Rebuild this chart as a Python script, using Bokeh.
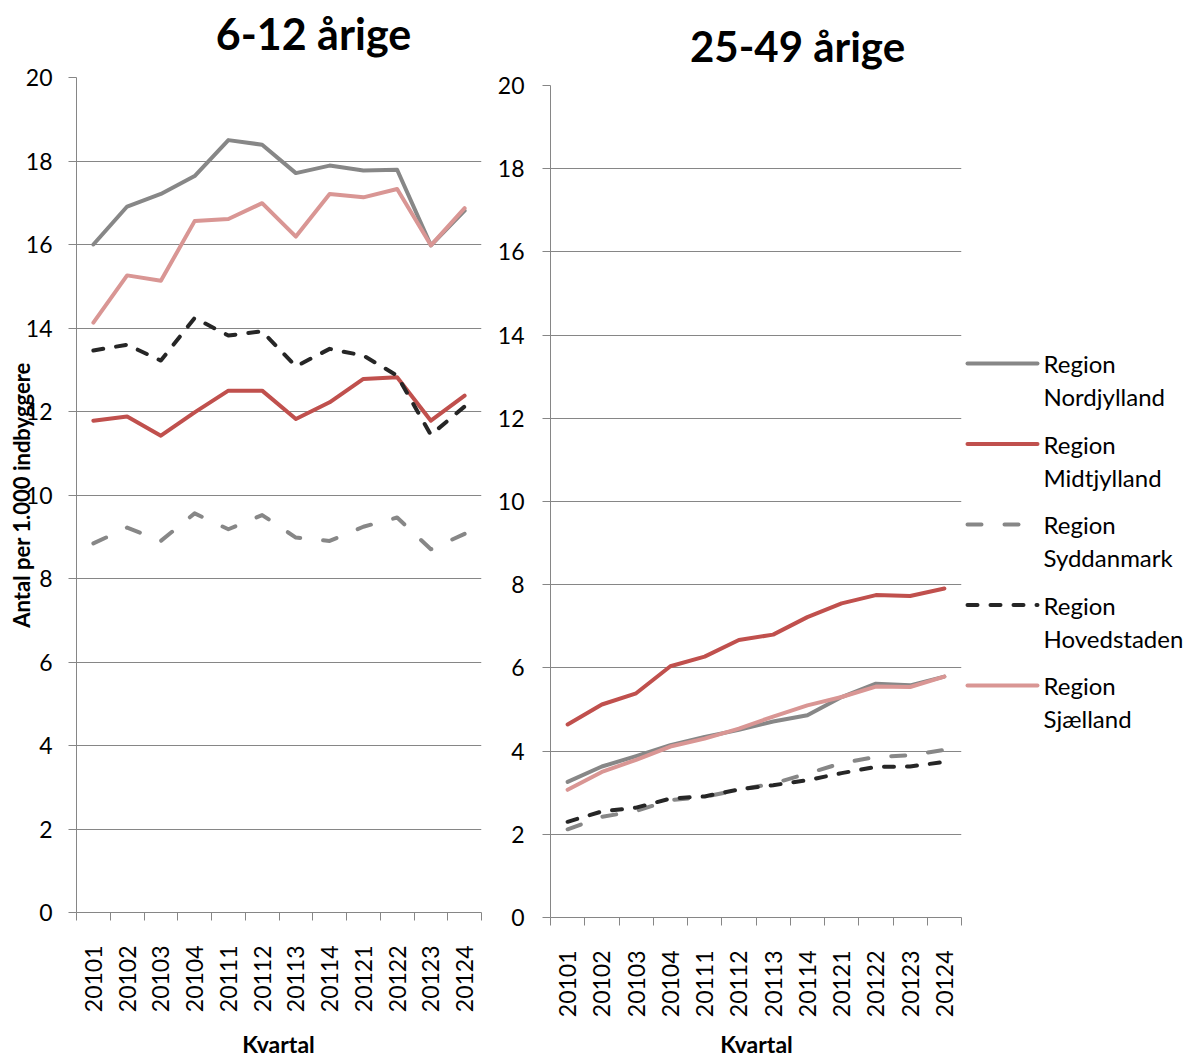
import math
from bokeh.plotting import figure
from bokeh.layouts import row, column
from bokeh.models import Range1d, FixedTicker
from bokeh.embed import file_html
from bokeh.resources import INLINE
from bokeh.core.properties import value

# ---------------- data ----------------
quarters = ["20101", "20102", "20103", "20104", "20111", "20112",
            "20113", "20114", "20121", "20122", "20123", "20124"]
regions = ["Region Nordjylland", "Region Midtjylland", "Region Syddanmark",
           "Region Hovedstaden", "Region Sjælland"]

title_left = "6-12 årige"
title_right = "25-49 årige"
y_label = "Antal per 1.000 indbyggere"
x_label = "Kvartal"
y_ticks = [0, 2, 4, 6, 8, 10, 12, 14, 16, 18, 20]

# 6-12 årige
a612_nordjylland = [16.00, 16.91, 17.21, 17.64, 18.50, 18.39, 17.71, 17.89, 17.77, 17.79, 15.98, 16.81]
a612_midtjylland = [11.78, 11.88, 11.42, 11.98, 12.50, 12.50, 11.82, 12.22, 12.78, 12.82, 11.78, 12.38]
a612_syddanmark = [8.84, 9.22, 8.90, 9.56, 9.18, 9.52, 8.98, 8.90, 9.24, 9.46, 8.70, 9.07]
a612_hovedstaden = [13.46, 13.60, 13.22, 14.24, 13.82, 13.92, 13.08, 13.50, 13.34, 12.86, 11.44, 12.12]
a612_sjaelland = [14.13, 15.26, 15.13, 16.56, 16.61, 16.99, 16.19, 17.21, 17.13, 17.33, 15.98, 16.87]

# 25-49 årige
a2549_nordjylland = [3.26, 3.63, 3.88, 4.14, 4.34, 4.51, 4.71, 4.86, 5.30, 5.62, 5.58, 5.79]
a2549_midtjylland = [4.64, 5.12, 5.39, 6.04, 6.27, 6.67, 6.80, 7.22, 7.55, 7.75, 7.73, 7.91]
a2549_syddanmark = [2.12, 2.42, 2.56, 2.82, 2.90, 3.07, 3.22, 3.46, 3.71, 3.86, 3.90, 4.03]
a2549_hovedstaden = [2.30, 2.55, 2.64, 2.86, 2.91, 3.08, 3.18, 3.30, 3.47, 3.62, 3.63, 3.74]
a2549_sjaelland = [3.07, 3.50, 3.79, 4.11, 4.30, 4.54, 4.83, 5.10, 5.30, 5.55, 5.54, 5.79]

series_612 = [a612_nordjylland, a612_midtjylland, a612_syddanmark, a612_hovedstaden, a612_sjaelland]
series_2549 = [a2549_nordjylland, a2549_midtjylland, a2549_syddanmark, a2549_hovedstaden, a2549_sjaelland]

# ---------------- styles ----------------
FONT = "Lato"
GRID = "#868686"
styles = [
    dict(line_color="#878787", line_dash="solid"),
    dict(line_color="#C0504D", line_dash="solid"),
    dict(line_color="#878787", line_dash="14 23"),
    dict(line_color="#262626", line_dash="10 13"),
    dict(line_color="#D99694", line_dash="solid"),
]
LW = 4


def make_chart(series, width, height, mb_left, mb_right, mb_top, mb_bottom,
               ylabel=None, ystandoff=16):
    n = len(quarters)
    p = figure(width=width, height=height, x_range=Range1d(-0.5, n - 0.5), y_range=Range1d(0, 20),
               output_backend="svg", toolbar_location=None,
               min_border_left=mb_left, min_border_right=mb_right,
               min_border_top=mb_top, min_border_bottom=mb_bottom)
    p.frame_align = False
    p.outline_line_color = None
    p.background_fill_color = "white"
    p.border_fill_color = "white"

    p.xgrid.grid_line_color = None
    p.ygrid.grid_line_color = GRID
    p.ygrid.grid_line_width = 1
    p.ygrid.ticker = FixedTicker(ticks=y_ticks)

    ya = p.yaxis[0]
    ya.ticker = FixedTicker(ticks=y_ticks)
    ya.axis_line_color = GRID
    ya.major_tick_line_color = GRID
    ya.major_tick_out = 8
    ya.major_tick_in = 0
    ya.minor_tick_line_color = None
    ya.major_label_text_font = FONT
    ya.major_label_text_font_size = "23px"
    ya.major_label_text_color = "black"
    ya.major_label_standoff = ystandoff
    if ylabel:
        ya.axis_label = ylabel
        ya.axis_label_text_font = FONT
        ya.axis_label_text_font_size = "22px"
        ya.axis_label_text_font_style = "bold"
        ya.axis_label_text_color = "black"
        ya.axis_label_standoff = -12

    xs = list(range(n))
    xa = p.xaxis[0]
    xa.ticker = FixedTicker(ticks=xs, minor_ticks=[i - 0.5 for i in range(n + 1)])
    xa.major_label_overrides = {i: q for i, q in enumerate(quarters)}
    xa.axis_line_color = GRID
    xa.major_tick_line_color = None
    xa.major_tick_out = 0
    xa.major_tick_in = 0
    xa.minor_tick_line_color = GRID
    xa.minor_tick_out = 8
    xa.minor_tick_in = 0
    xa.major_label_orientation = math.pi / 2
    xa.major_label_text_font = FONT
    xa.major_label_text_font_size = "23px"
    xa.major_label_text_color = "black"
    xa.major_label_standoff = 25

    for ys, st in zip(series, styles):
        p.line(xs, ys, line_width=LW, line_cap="round", line_join="round", **st)
    return p


def strip(width, height):
    """A blank pixel-space panel used to hold titles / legend."""
    f = figure(width=width, height=height, x_range=Range1d(0, width), y_range=Range1d(height, 0),
               output_backend="svg", toolbar_location=None, x_axis_type=None, y_axis_type=None,
               min_border=0)
    f.frame_align = False
    f.outline_line_color = None
    f.grid.visible = False
    return f


def put_text(f, x, y, txt, size, bold=False):
    f.text([x], [y], text=[txt], text_font=value(FONT), text_font_size=size,
           text_font_style="bold" if bold else "normal",
           text_baseline="middle", text_align="center", text_color="black")


TOTAL_H = 1059

# ---------------- left chart column ----------------
W1 = 490
t1 = strip(W1, 62)
put_text(t1, 313, 33, title_left, "43px", bold=True)
p1 = make_chart(series_612, W1, 963, 76, 9, 15, 113, ylabel=y_label, ystandoff=16)
k1 = strip(W1, TOTAL_H - 62 - 963)
put_text(k1, 278, 18, x_label, "23px", bold=True)

# ---------------- right chart column ----------------
W2 = 473
t2 = strip(W2, 72)
put_text(t2, 307, 45, title_right, "42px", bold=True)
p2 = make_chart(series_2549, W2, 952, 60, 2, 13, 107, ystandoff=18)
k2 = strip(W2, TOTAL_H - 72 - 952)
put_text(k2, 266, 19, x_label, "23px", bold=True)

# ---------------- legend panel ----------------
LEG_W = 226
leg = strip(LEG_W, TOTAL_H)
leg_top = 363
leg_step = 80.5
for i, (name, st) in enumerate(zip(regions, styles)):
    yy = leg_top + i * leg_step
    leg.line([4, 74], [yy, yy], line_width=LW, line_cap="round", **st)
    first, second = name.split(" ", 1)
    leg.text([80], [yy], text=[first], text_font=value(FONT), text_font_size="24px",
             text_baseline="middle", text_align="left", text_color="black")
    leg.text([80], [yy + 33], text=[second], text_font=value(FONT), text_font_size="24px",
             text_baseline="middle", text_align="left", text_color="black")

layout = row(column(t1, p1, k1), column(t2, p2, k2), leg)
open("out.html", "w").write(file_html(layout, INLINE))
